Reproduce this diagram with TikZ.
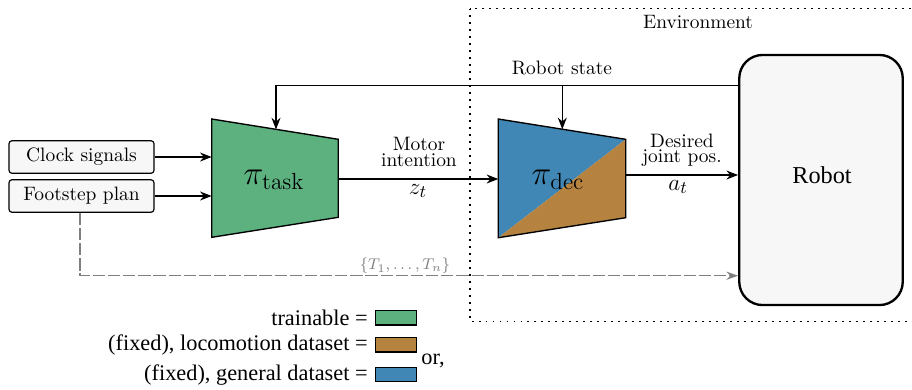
\documentclass[tikz,border=0pt]{standalone}
\usepackage{fontspec}
\newfontfamily\timesfont{Liberation Serif}
\usetikzlibrary{arrows.meta,calc}

\definecolor{trainGreen}{HTML}{5CB17F}
\definecolor{locoBrown}{HTML}{B5833F}
\definecolor{genBlue}{HTML}{4187B5}
\definecolor{boxFill}{HTML}{F7F7F7}
\definecolor{taskGray}{HTML}{7F7F7F}

\tikzset{
  inbox/.style={draw, line width=0.6pt, rounded corners=1.6pt, fill=boxFill,
    minimum width=74.7pt, minimum height=16.8pt, inner sep=0pt, font=\fontsize{10}{12}\selectfont},
  robotbox/.style={draw, line width=1.2pt, rounded corners=12pt, fill=boxFill,
    minimum width=84.2pt, minimum height=128.8pt, inner sep=0pt},
  arr/.style={line width=0.8pt, -{Stealth[length=6pt,width=4.6pt]}},
  dasharr/.style={line width=0.75pt, draw=taskGray, dash pattern=on 6.3pt off 1.5pt,
    -{Stealth[length=6pt,width=4.2pt,fill=taskGray]}},
  netedge/.style={draw, line width=0.7pt, line join=miter},
  lbl/.style={font=\fontsize{10}{7.8}\selectfont, align=center, inner sep=0pt},
  legtext/.style={anchor=east, inner sep=0pt, font=\timesfont\fontsize{11.5}{13}\selectfont},
  swatch/.style={draw, line width=0.6pt},
  envbox/.style={line width=1pt, dash pattern=on 1pt off 2.6pt}
}

\begin{document}
\begin{tikzpicture}[x=0.515pt,y=-0.515pt]
\useasboundingbox (0,0) rectangle (912,389);

% environment frame (runs past the right edge)
\begin{scope}
  \clip (0,0) rectangle (912,389);
  \draw[envbox] (470,8.5) rectangle (940,321.5);
\end{scope}
\node[font=\fontsize{10}{12}\selectfont] (envlabel) at (698,22) {Environment};

% inputs
\node[inbox] (clock) at (81.5,157) {Clock signals};
\node[inbox] (plan) at (81.5,196) {Footstep plan};

% task policy (trainable)
\coordinate (task-tl) at (211.7,119);
\coordinate (task-tr) at (338.3,139.3);
\coordinate (task-br) at (338.3,217.3);
\coordinate (task-bl) at (211.7,237.3);
\fill[trainGreen] (task-tl) -- (task-tr) -- (task-br) -- (task-bl) -- cycle;
\draw[netedge] (task-tl) -- (task-tr) -- (task-br) -- (task-bl) -- cycle;
\node[font=\LARGE] (tasklabel) at (274,180) {$\pi_{\mathrm{task}}$};
\coordinate (task-top) at (276,129.5);
\coordinate (task-out) at (338.3,179);

% decoder policy (fixed)
\coordinate (dec-tl) at (498.3,119);
\coordinate (dec-tr) at (625.7,139.3);
\coordinate (dec-br) at (625.7,217.7);
\coordinate (dec-bl) at (498.3,237.7);
\fill[genBlue] (dec-tl) -- (dec-tr) -- (dec-bl) -- cycle;
\fill[locoBrown] (dec-tr) -- (dec-br) -- (dec-bl) -- cycle;
\draw[netedge] (dec-tl) -- (dec-tr) -- (dec-br) -- (dec-bl) -- cycle;
\node[font=\LARGE] (declabel) at (558,180) {$\pi_{\mathrm{dec}}$};
\coordinate (dec-top) at (562.3,129.3);
\coordinate (dec-in) at (498.3,179);
\coordinate (dec-out) at (625.7,175);

% robot
\node[robotbox] (robot) at (821,180) {};
\node[font=\timesfont\fontsize{12.5}{14}\selectfont] (robotlabel) at ($(robot.center)+(1,-5)$) {Robot};
\coordinate (robot-act) at (robot.west |- dec-out);
\coordinate (robot-fb) at ($(robot.west)+(0,-94.3)$);
\coordinate (robot-plan) at ($(robot.west)+(0,95.7)$);

% connectors
\draw[arr] (clock.east) -- (clock.east -| task-tl);
\draw[arr] (plan.east) -- (plan.east -| task-tl);
\draw[arr] (task-out) -- (dec-in);
\draw[arr] (dec-out) -- (robot-act);
\draw[arr] (robot-fb) -| (task-top);
\draw[arr] (robot-fb -| dec-top) -- (dec-top);
\draw[dasharr] ([xshift=-0.8pt]plan.south) |- (robot-plan);

% connector labels
\node[lbl] (motorlbl) at (419,152) {Motor\\intention};
\node[font=\fontsize{13}{15}\selectfont] (zlbl) at (418,191) {$z_t$};
\node[lbl] (jointlbl) at (682,150) {Desired\\joint pos.};
\node[font=\fontsize{13}{15}\selectfont] (albl) at (678,187) {$a_t$};
\node[font=\fontsize{10}{12}\selectfont] (statelbl) at (562,68) {Robot state};
\node[text=taskGray, font=\fontsize{8.5}{10}\selectfont] (tlbl) at (405,266) {$\{T_1,\ldots,T_n\}$};

% legend
\draw[swatch, fill=trainGreen] (375.3,310.7) rectangle (416.7,325);
\draw[swatch, fill=locoBrown] (375.3,337.7) rectangle (416.7,352);
\draw[swatch, fill=genBlue] (375.3,367.7) rectangle (416.7,381.7);
\node[legtext] (leg1) at (368,318) {trainable =};
\node[legtext] (leg2) at (368,345) {(fixed), locomotion dataset =};
\node[legtext] (leg3) at (368,375) {(fixed), general dataset =};
\node[anchor=west, inner sep=0pt, font=\timesfont\fontsize{11.5}{13}\selectfont] (orlbl) at (421,361) {or,};
\end{tikzpicture}
\end{document}
